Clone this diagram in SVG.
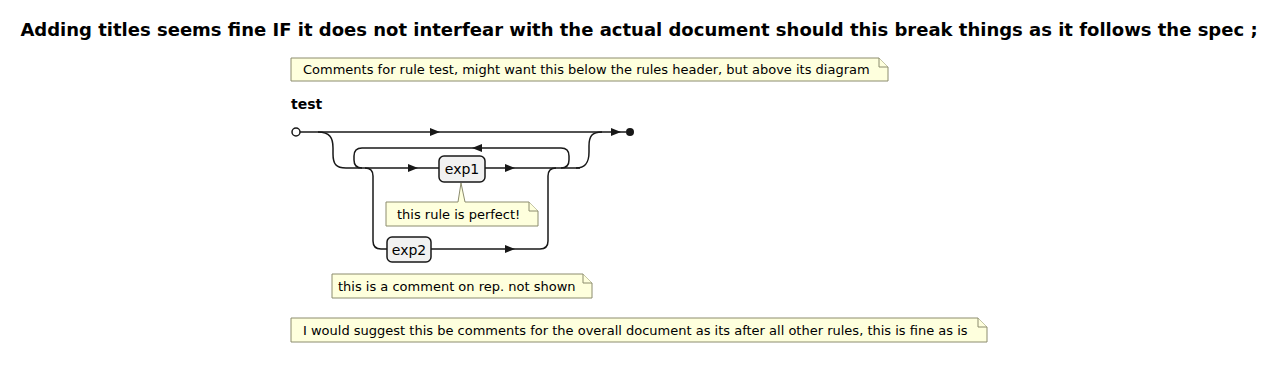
<svg xmlns="http://www.w3.org/2000/svg" width="1279" height="369" viewBox="0 0 1279 369">
<defs>
<style>
.t{font-family:"DejaVu Sans",sans-serif;fill:#000}
.note{fill:#FEFFDD;stroke:#8C8C6E;stroke-width:1}
.rail{fill:none;stroke:#181818;stroke-width:1.5}
.box{fill:#F1F1F1;stroke:#181818;stroke-width:1.5}
.arr{fill:#181818}
</style>
<path id="ar" d="M-5,-4 L5,0 L-5,4 Z"/>
</defs>
<rect width="1279" height="369" fill="#FFFFFF"/>
<text class="t" x="639" y="36" font-size="18" font-weight="bold" text-anchor="middle">Adding titles seems fine IF it does not interfear with the actual document should this break things as it follows the spec ;</text>
<g id="note-rule">
<path class="note" d="M291,58 H879 L888,67 V81 H291 Z"/>
<path class="note" d="M879,58 V67 H888" fill="none"/>
<text class="t" x="303" y="74" font-size="13">Comments for rule test, might want this below the rules header, but above its diagram</text>
</g>
<g id="rule-title"><text class="t" x="291" y="109" font-size="14" font-weight="bold">test</text></g>
<g id="connectors">
<path class="rail" d="M300,132 H626"/>
<path class="rail" d="M318,132 C330,132 333,138 333,148 V154 C333,164 336,168 346,168 H580"/>
<path class="rail" d="M576,168 C586,168 589,162 589,152 V146 C589,136 592,132 602,132"/>
<path class="rail" d="M362,168 Q354,168 354,160 V156 Q354,148 362,148 H561 Q569,148 569,156 V160 Q569,168 561,168"/>
<path class="rail" d="M365,168 Q373,168 373,176 V241 Q373,249 381,249 H387"/>
<path class="rail" d="M431,249 H540 Q548,249 548,241 V176 Q548,168 556,168"/>
<use href="#ar" class="arr" x="435" y="132"/>
<use href="#ar" class="arr" x="616" y="132"/>
<use href="#ar" class="arr" x="413" y="168"/>
<use href="#ar" class="arr" x="510" y="168"/>
<use href="#ar" class="arr" x="510" y="249"/>
<use href="#ar" class="arr" transform="translate(477,148) rotate(180)"/>
</g>
<g id="start"><circle cx="296" cy="132" r="4" fill="#FFFFFF" stroke="#181818" stroke-width="1.5"/></g>
<g id="end"><circle cx="630" cy="132" r="4" fill="#181818"/></g>
<g id="exp1">
<rect class="box" x="439" y="156" width="46" height="26" rx="5"/>
<text class="t" x="462" y="174" font-size="14" text-anchor="middle">exp1</text>
</g>
<g id="note-exp1">
<path class="note" d="M386,202 H458 L461,183 L465,202 H529 L538,211 V226 H386 Z"/>
<path class="note" d="M529,202 V211 H538" fill="none"/>
<text class="t" x="397" y="219" font-size="13">this rule is perfect!</text>
</g>
<g id="exp2">
<rect class="box" x="387" y="237" width="44" height="25" rx="5"/>
<text class="t" x="409" y="255" font-size="14" text-anchor="middle">exp2</text>
</g>
<g id="note-rep">
<path class="note" d="M332,274 H583 L592,283 V298 H332 Z"/>
<path class="note" d="M583,274 V283 H592" fill="none"/>
<text class="t" x="338" y="291" font-size="13">this is a comment on rep. not shown</text>
</g>
<g id="note-doc">
<path class="note" d="M291,318 H978 L987,327 V342 H291 Z"/>
<path class="note" d="M978,318 V327 H987" fill="none"/>
<text class="t" x="303" y="335" font-size="13">I would suggest this be comments for the overall document as its after all other rules, this is fine as is</text>
</g>
</svg>
